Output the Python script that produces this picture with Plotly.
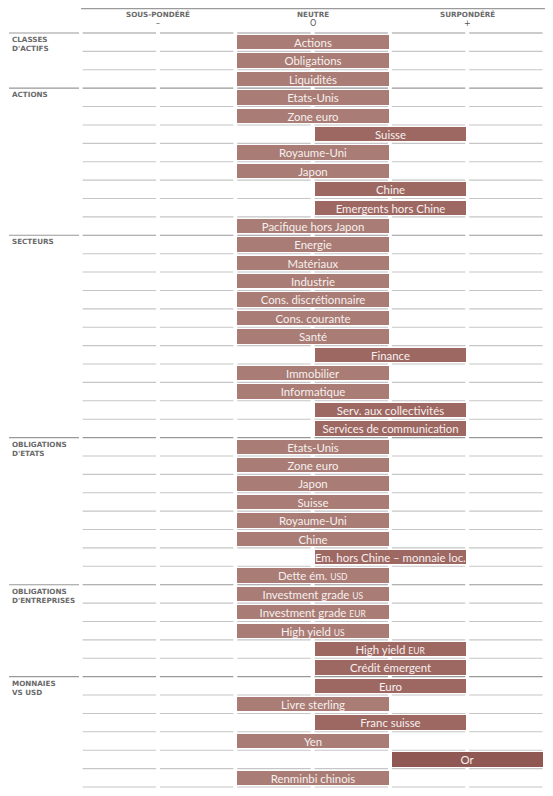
import plotly.graph_objects as go

# ---------------- data ----------------
section_titles = [
    ["CLASSES", "D'ACTIFS"],
    ["ACTIONS"],
    ["SECTEURS"],
    ["OBLIGATIONS", "D'ETATS"],
    ["OBLIGATIONS", "D'ENTREPRISES"],
    ["MONNAIES", "VS USD"],
]

sc = lambda s: '<span style="font-size:8.5px">' + s + '</span>'

classes_labels = ["Actions", "Obligations", "Liquidités"]
classes_values = [0, 0, 0]

actions_labels = ["Etats-Unis", "Zone euro", "Suisse", "Royaume-Uni", "Japon",
                  "Chine", "Emergents hors Chine", "Pacifique hors Japon"]
actions_values = [0, 0, 1, 0, 0, 1, 1, 0]

secteurs_labels = ["Energie", "Matériaux", "Industrie", "Cons. discrétionnaire",
                   "Cons. courante", "Santé", "Finance", "Immobilier", "Informatique",
                   "Serv. aux collectivités", "Services de communication"]
secteurs_values = [0, 0, 0, 0, 0, 0, 1, 0, 0, 1, 1]

etats_labels = ["Etats-Unis", "Zone euro", "Japon", "Suisse", "Royaume-Uni", "Chine",
                "Em. hors Chine – monnaie loc.", "Dette ém. " + sc("USD")]
etats_values = [0, 0, 0, 0, 0, 0, 1, 0]

entreprises_labels = ["Investment grade " + sc("US"), "Investment grade " + sc("EUR"),
                      "High yield " + sc("US"), "High yield " + sc("EUR"), "Crédit émergent"]
entreprises_values = [0, 0, 0, 1, 1]

monnaies_labels = ["Euro", "Livre sterling", "Franc suisse", "Yen", "Or", "Renminbi chinois"]
monnaies_values = [1, 0, 1, 0, 2, 0]

header_labels = ["SOUS-PONDÉRÉ", "NEUTRE", "SURPONDÉRÉ"]
header_symbols = ["–", "O", "+"]
header_positions = [-2, 0, 2]

# ---------------- build ----------------
sections_labels = [classes_labels, actions_labels, secteurs_labels,
                   etats_labels, entreprises_labels, monnaies_labels]
sections_values = [classes_values, actions_values, secteurs_values,
                   etats_values, entreprises_values, monnaies_values]

labels, values, section_start = [], [], []
for lab, val in zip(sections_labels, sections_values):
    section_start.append(len(labels))
    labels += lab
    values += val
n = len(labels)
rows = list(range(n))

color_map = {0: "#a97c75", 1: "#9d6762", 2: "#8f5852"}
colors = [color_map[v] for v in values]

# page body has an 8px margin: the figure is drawn from (8, 8)
OFF = 8
W, H = 553 - OFF, 796 - OFF
x0_px, unit_px = 313.0 - OFF, 77.3
row_top_px, row_h = 33.0 - OFF, 18.39

xr = [-x0_px / unit_px, (W - x0_px) / unit_px]
yr = [(H - row_top_px) / row_h - 0.5, (0 - row_top_px) / row_h - 0.5]

fig = go.Figure()
fig.add_trace(go.Bar(
    y=rows, x=[1.96] * n, base=[v - 0.98 for v in values],
    orientation="h", width=0.78,
    marker=dict(color=colors, line=dict(width=0)),
    text=labels, textposition="inside", insidetextanchor="middle",
    constraintext="none", textangle=0,
    textfont=dict(family="Lato, Open Sans, sans-serif", size=11.4, color="#f7f0ee"),
    hoverinfo="skip", cliponaxis=False,
))

shapes = []
row_line = "#c6c6c6"
sec_line = "#999999"
top_y = (0.7 - row_top_px) / row_h - 0.5
shapes.append(dict(type="line", xref="x", yref="y", x0=-3.0, x1=3.0,
                   y0=top_y, y1=top_y, line=dict(color="#9a9a9a", width=1.2)))
label_x0 = (9 - OFF - x0_px) / unit_px
label_x1 = (79 - OFF - x0_px) / unit_px
for i in range(n + 1):
    yb = i - 0.5
    is_sec = i in section_start
    col = sec_line if is_sec else row_line
    for k in range(-3, 3):
        shapes.append(dict(type="line", xref="x", yref="y", x0=k + 0.02, x1=k + 0.97,
                           y0=yb, y1=yb, line=dict(color=col, width=1.1), layer="below"))
    if is_sec:
        shapes.append(dict(type="line", xref="x", yref="y", x0=label_x0, x1=label_x1,
                           y0=yb, y1=yb, line=dict(color=sec_line, width=1.1), layer="below"))

annotations = []
lab_font = dict(family="DejaVu Sans, sans-serif", size=7.2, color="#6a6a6a", weight="bold")
for title, start in zip(section_titles, section_start):
    top_px = row_top_px + start * row_h
    for j, line in enumerate(title):
        ypx = top_px + 6.5 + j * 9.3
        annotations.append(dict(x=(10 - OFF) / W, y=1 - ypx / H, xref="paper", yref="paper",
                                text=line, showarrow=False, xanchor="left", yanchor="middle",
                                font=lab_font))
for lab, sym, pos in zip(header_labels, header_symbols, header_positions):
    annotations.append(dict(x=pos, y=1 - (15 - OFF) / H, xref="x", yref="paper", text=lab,
                            showarrow=False, xanchor="center", yanchor="middle", font=lab_font))
    annotations.append(dict(x=pos, y=1 - (24 - OFF) / H, xref="x", yref="paper", text=sym,
                            showarrow=False, xanchor="center", yanchor="middle",
                            font=dict(family="DejaVu Sans, sans-serif", size=8,
                                      color="#555555")))

fig.update_layout(
    width=W, height=H, margin=dict(l=0, r=0, t=0, b=0),
    paper_bgcolor="white", plot_bgcolor="white",
    showlegend=False, bargap=0,
    xaxis=dict(range=xr, visible=False, fixedrange=True),
    yaxis=dict(range=yr, visible=False, fixedrange=True),
    shapes=shapes, annotations=annotations,
)
fig.write_html("out.html")
